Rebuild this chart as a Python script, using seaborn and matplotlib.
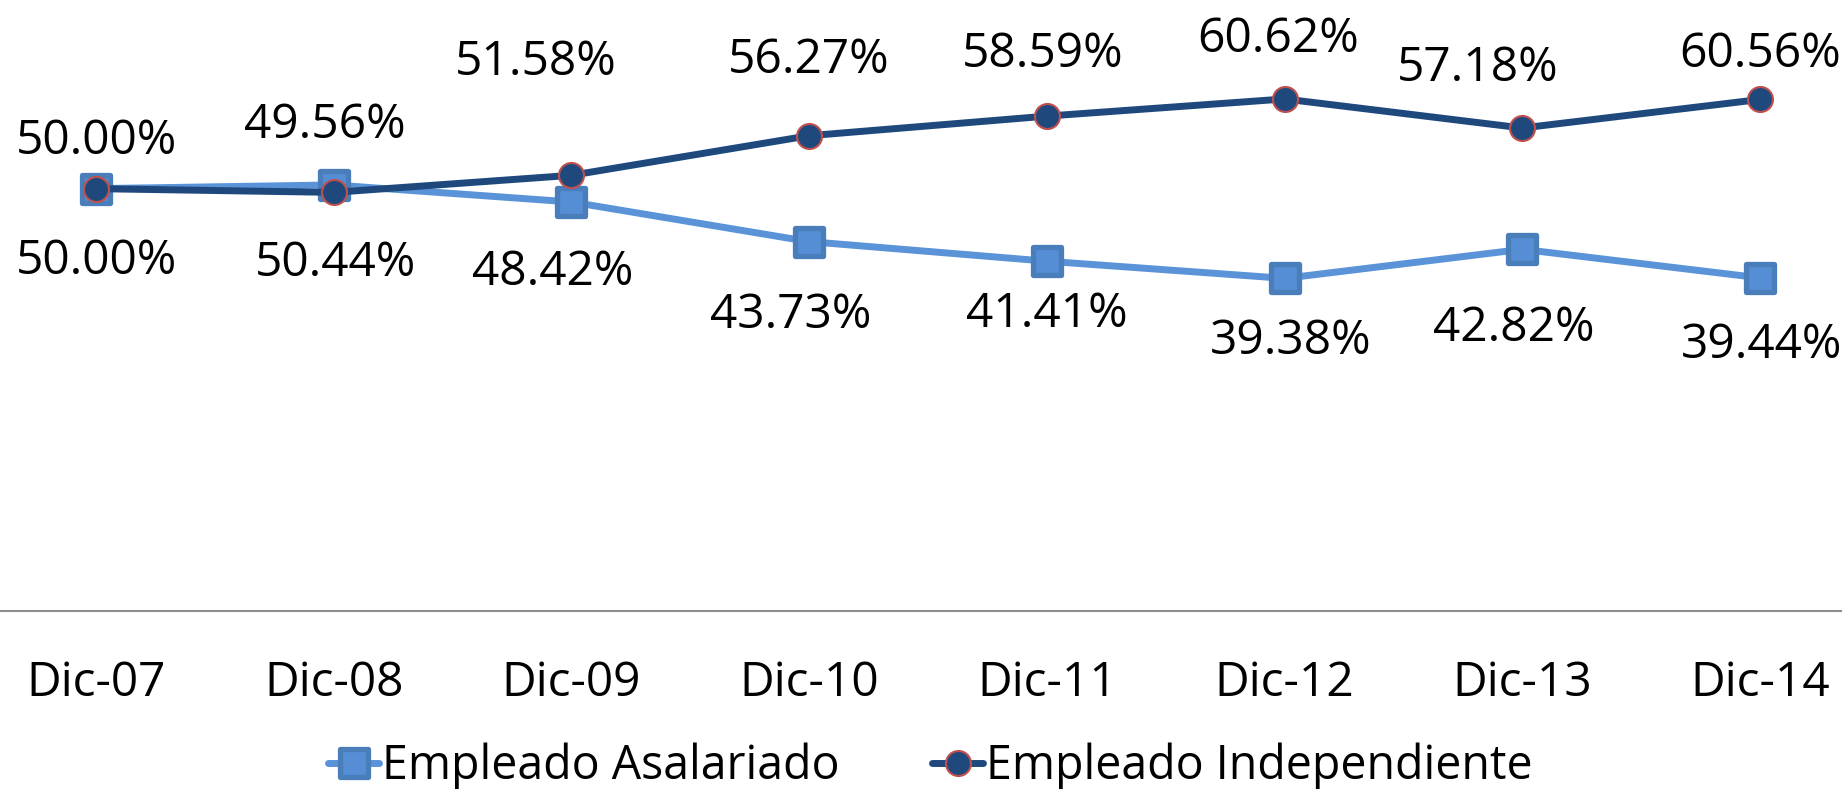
import numpy as np
import pandas as pd
import matplotlib.pyplot as plt
from matplotlib.markers import MarkerStyle
import seaborn as sns

# datos del grafico
periodos = ['Dic-07', 'Dic-08', 'Dic-09', 'Dic-10', 'Dic-11', 'Dic-12', 'Dic-13', 'Dic-14']
asalariado = [50.00, 50.44, 48.42, 43.73, 41.41, 39.38, 42.82, 39.44]
independiente = [50.00, 49.56, 51.58, 56.27, 58.59, 60.62, 57.18, 60.56]

# desplazamiento manual de las etiquetas (pixeles), como en el original
off_indep = [(0, 47), (-9, 67), (-36, 113), (0, 75), (-4, 62), (-6, 60), (-45, 60), (0, 45)]
off_asal = [(0, -73), (2, -78), (-19, -70), (-18, -74), (0, -53), (6, -63), (-9, -79), (2, -67)]

sns.set_style('white')
plt.rcParams['font.family'] = ['Open Sans', 'DejaVu Sans']
plt.rcParams['text.color'] = 'black'
plt.rcParams['xtick.color'] = 'black'

df = pd.DataFrame({'periodo': periodos,
                   'Empleado Asalariado': asalariado,
                   'Empleado Independiente': independiente})

fig = plt.figure(figsize=(18.42, 7.89), dpi=100)
ax = fig.add_axes([0, 0.2256, 1, 0.7494])

sq = MarkerStyle('s', joinstyle='round')
sns.lineplot(data=df, x='periodo', y='Empleado Asalariado', ax=ax, color='#5A93D8',
             linewidth=5, marker=sq, markersize=20, markerfacecolor='#558ED5',
             markeredgecolor='#4A7EBB', markeredgewidth=3.8, label='Empleado Asalariado')
sns.lineplot(data=df, x='periodo', y='Empleado Independiente', ax=ax, color='#1F497D',
             linewidth=5, marker='o', markersize=18, markerfacecolor='#1F497D',
             markeredgecolor='#C0504D', markeredgewidth=1.5, label='Empleado Independiente')

# etiquetas de datos
for i in range(len(periodos)):
    ax.annotate(f'{independiente[i]:.2f}%', (i, independiente[i]), xytext=off_indep[i],
                textcoords='offset pixels', ha='center', va='center', fontsize=34.5)
    ax.annotate(f'{asalariado[i]:.2f}%', (i, asalariado[i]), xytext=off_asal[i],
                textcoords='offset pixels', ha='center', va='center', fontsize=34.5)

ax.set_ylim(0, 70)
ax.set_xlim(-0.404, 7.345)
ax.set_xlabel('')
ax.set_ylabel('')
ax.set_yticks([])
for s in ['top', 'left', 'right']:
    ax.spines[s].set_visible(False)
ax.spines['bottom'].set_color('#8C8C8C')
ax.spines['bottom'].set_linewidth(1.5)
ax.tick_params(axis='x', length=0, pad=35, labelsize=34.5, labelcolor='black')

leg = ax.legend(loc='center', bbox_to_anchor=(0.505, 0.029), bbox_transform=fig.transFigure,
                ncol=2, frameon=False, fontsize=33.5, handlelength=1.1, handletextpad=0.05,
                columnspacing=2.0)

fig.savefig('out.png', dpi=100)
plt.close()
